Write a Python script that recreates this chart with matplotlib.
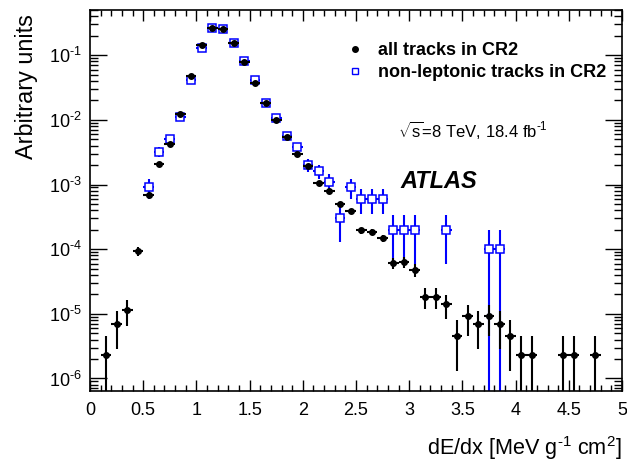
import numpy as np
import matplotlib
matplotlib.use('Agg')
import matplotlib.pyplot as plt
from matplotlib.ticker import MultipleLocator, FormatStrFormatter, LogLocator, FuncFormatter
from matplotlib.lines import Line2D

plt.rcParams['font.family'] = ['Liberation Sans', 'DejaVu Sans']
plt.rcParams['mathtext.fontset'] = 'custom'
plt.rcParams['mathtext.rm'] = 'Liberation Sans'
plt.rcParams['mathtext.it'] = 'Liberation Sans:italic'
plt.rcParams['mathtext.bf'] = 'Liberation Sans:bold'
plt.rcParams['mathtext.default'] = 'regular'
plt.rcParams['axes.unicode_minus'] = False

# all tracks in CR2 (bin centres, values, errors)
x_all = [0.15, 0.25, 0.35, 0.45, 0.55, 0.65, 0.75, 0.85, 0.95, 1.05,
         1.15, 1.25, 1.35, 1.45, 1.55, 1.65, 1.75, 1.85, 1.95, 2.05,
         2.15, 2.25, 2.35, 2.45, 2.55, 2.65, 2.75, 2.85, 2.95, 3.05,
         3.15, 3.25, 3.35, 3.45, 3.55, 3.65, 3.75, 3.85, 3.95, 4.05,
         4.15, 4.45, 4.55, 4.75]
y_all = [2.3e-6, 6.9e-6, 1.15e-5, 9.4e-5, 6.8e-4, 2.1e-3, 4.2e-3, 1.22e-2, 4.8e-2, 0.145,
         0.26, 0.25, 0.155, 0.079, 0.037, 0.0185, 9.8e-3, 5.5e-3, 2.95e-3, 1.9e-3,
         1.05e-3, 7.9e-4, 5.0e-4, 3.9e-4, 1.95e-4, 1.85e-4, 1.48e-4, 6.2e-5, 6.3e-5, 4.8e-5,
         1.85e-5, 1.85e-5, 1.4e-5, 4.6e-6, 9.2e-6, 6.9e-6, 9.2e-6, 6.9e-6, 4.6e-6, 2.3e-6,
         2.3e-6, 2.3e-6, 2.3e-6, 2.3e-6]
err_all = [2.3e-6, 4.0e-6, 5.1e-6, 1.5e-5, 4e-5, 7e-5, 1e-4, 1.7e-4, 3.3e-4, 5.8e-4,
           7.7e-4, 7.6e-4, 6e-4, 4.3e-4, 2.9e-4, 2.1e-4, 1.5e-4, 1.1e-4, 8e-5, 6.6e-5,
           4.9e-5, 4.3e-5, 3.4e-5, 3e-5, 2.1e-5, 2.1e-5, 1.8e-5, 1.2e-5, 1.2e-5, 1.05e-5,
           6.5e-6, 6.5e-6, 5.7e-6, 3.3e-6, 4.6e-6, 4.0e-6, 4.6e-6, 4.0e-6, 3.3e-6, 2.3e-6,
           2.3e-6, 2.3e-6, 2.3e-6, 2.3e-6]

# non-leptonic tracks in CR2
x_nl = [0.55, 0.65, 0.75, 0.85, 0.95, 1.05, 1.15, 1.25, 1.35, 1.45,
        1.55, 1.65, 1.75, 1.85, 1.95, 2.05, 2.15, 2.25, 2.35, 2.45,
        2.55, 2.65, 2.75, 2.85, 2.95, 3.05, 3.35, 3.75, 3.85]
y_nl = [9e-4, 3.2e-3, 5.0e-3, 1.12e-2, 4.1e-2, 0.131, 0.26, 0.25, 0.155, 0.081,
        0.041, 0.0185, 1.06e-2, 5.7e-3, 3.8e-3, 2.0e-3, 1.6e-3, 1.1e-3, 3e-4, 9e-4,
        6e-4, 6e-4, 6e-4, 2e-4, 2e-4, 2e-4, 2e-4, 1e-4, 1e-4]
err_nl = [3e-4, 5.7e-4, 7e-4, 1.06e-3, 2e-3, 3.6e-3, 5e-3, 5e-3, 3.9e-3, 2.8e-3,
          2e-3, 1.4e-3, 1e-3, 7.5e-4, 6.2e-4, 4.5e-4, 4e-4, 3.3e-4, 1.73e-4, 3e-4,
          2.45e-4, 2.45e-4, 2.45e-4, 1.41e-4, 1.41e-4, 1.41e-4, 1.41e-4, 1e-4, 1e-4]

bin_half = 0.05

fig = plt.figure(figsize=(6.27, 4.65), dpi=100)
ax = fig.add_axes([90/627, 74/465, 532/627, 381/465])

blue = '#0000ff'
ax.errorbar(x_nl, y_nl, yerr=err_nl, xerr=bin_half, fmt='s', color=blue,
            mfc='white', mec=blue, ms=5.5, mew=1.1, elinewidth=1.5, capsize=0, zorder=2)
ax.errorbar(x_all, y_all, yerr=err_all, xerr=bin_half, fmt='o', color='black',
            ms=4, elinewidth=1.5, capsize=0, zorder=3)

ax.set_yscale('log')
ax.set_xlim(0, 5)
ax.set_ylim(6.4e-7, 0.5)

ax.xaxis.set_major_locator(MultipleLocator(0.5))
ax.xaxis.set_minor_locator(MultipleLocator(0.1))
ax.xaxis.set_major_formatter(FormatStrFormatter('%g'))
ax.yaxis.set_major_locator(LogLocator(base=10, numticks=20))
ax.yaxis.set_minor_locator(LogLocator(base=10, subs=np.arange(2, 10), numticks=20))
ax.yaxis.set_major_formatter(FuncFormatter(
    lambda v, p: r'$10^{\text{-}%d}$' % round(-np.log10(v)) if v < 1 else r'$10^{%d}$' % round(np.log10(v))))

ax.tick_params(axis='both', which='both', direction='in', top=True, right=True, width=1)
ax.tick_params(axis='x', which='major', length=8, labelsize=13, pad=8)
ax.tick_params(axis='x', which='minor', length=4)
ax.tick_params(axis='y', which='major', length=12, labelsize=13, pad=6)
ax.tick_params(axis='y', which='minor', length=6)
for s in ax.spines.values():
    s.set_linewidth(1.2)

ax.set_xlabel(r'dE/dx [MeV g$^{\text{-}1}$ cm$^{2}$]', fontsize=15.6, loc='right')
ax.xaxis.set_label_coords(1.0, -0.113)
ax.set_ylabel('Arbitrary units', fontsize=16.8, loc='top')
ax.yaxis.set_label_coords(-0.098, 0.99)

handles = [Line2D([], [], ls='none', marker='o', color='black', ms=4),
           Line2D([], [], ls='none', marker='s', mfc='white', mec=blue, ms=5, mew=1)]
ax.legend(handles, ['all tracks in CR2', 'non-leptonic tracks in CR2'],
          loc='upper left', bbox_to_anchor=(346/627, 1 - 42/465), bbox_transform=fig.transFigure,
          frameon=False, borderpad=0, borderaxespad=0, handlelength=1.0, handletextpad=0.8,
          labelspacing=0.3, prop={'weight': 'bold', 'size': 13})

fig.text(398/627, 1 - 130/465, r'$\sqrt{s}$=8 TeV, 18.4 fb$^{\text{-}1}$', fontsize=12, va='center')
fig.text(400/627, 1 - 181/465, 'ATLAS', fontsize=17, weight='bold', style='italic', va='center')

fig.savefig('out.png', dpi=100)
